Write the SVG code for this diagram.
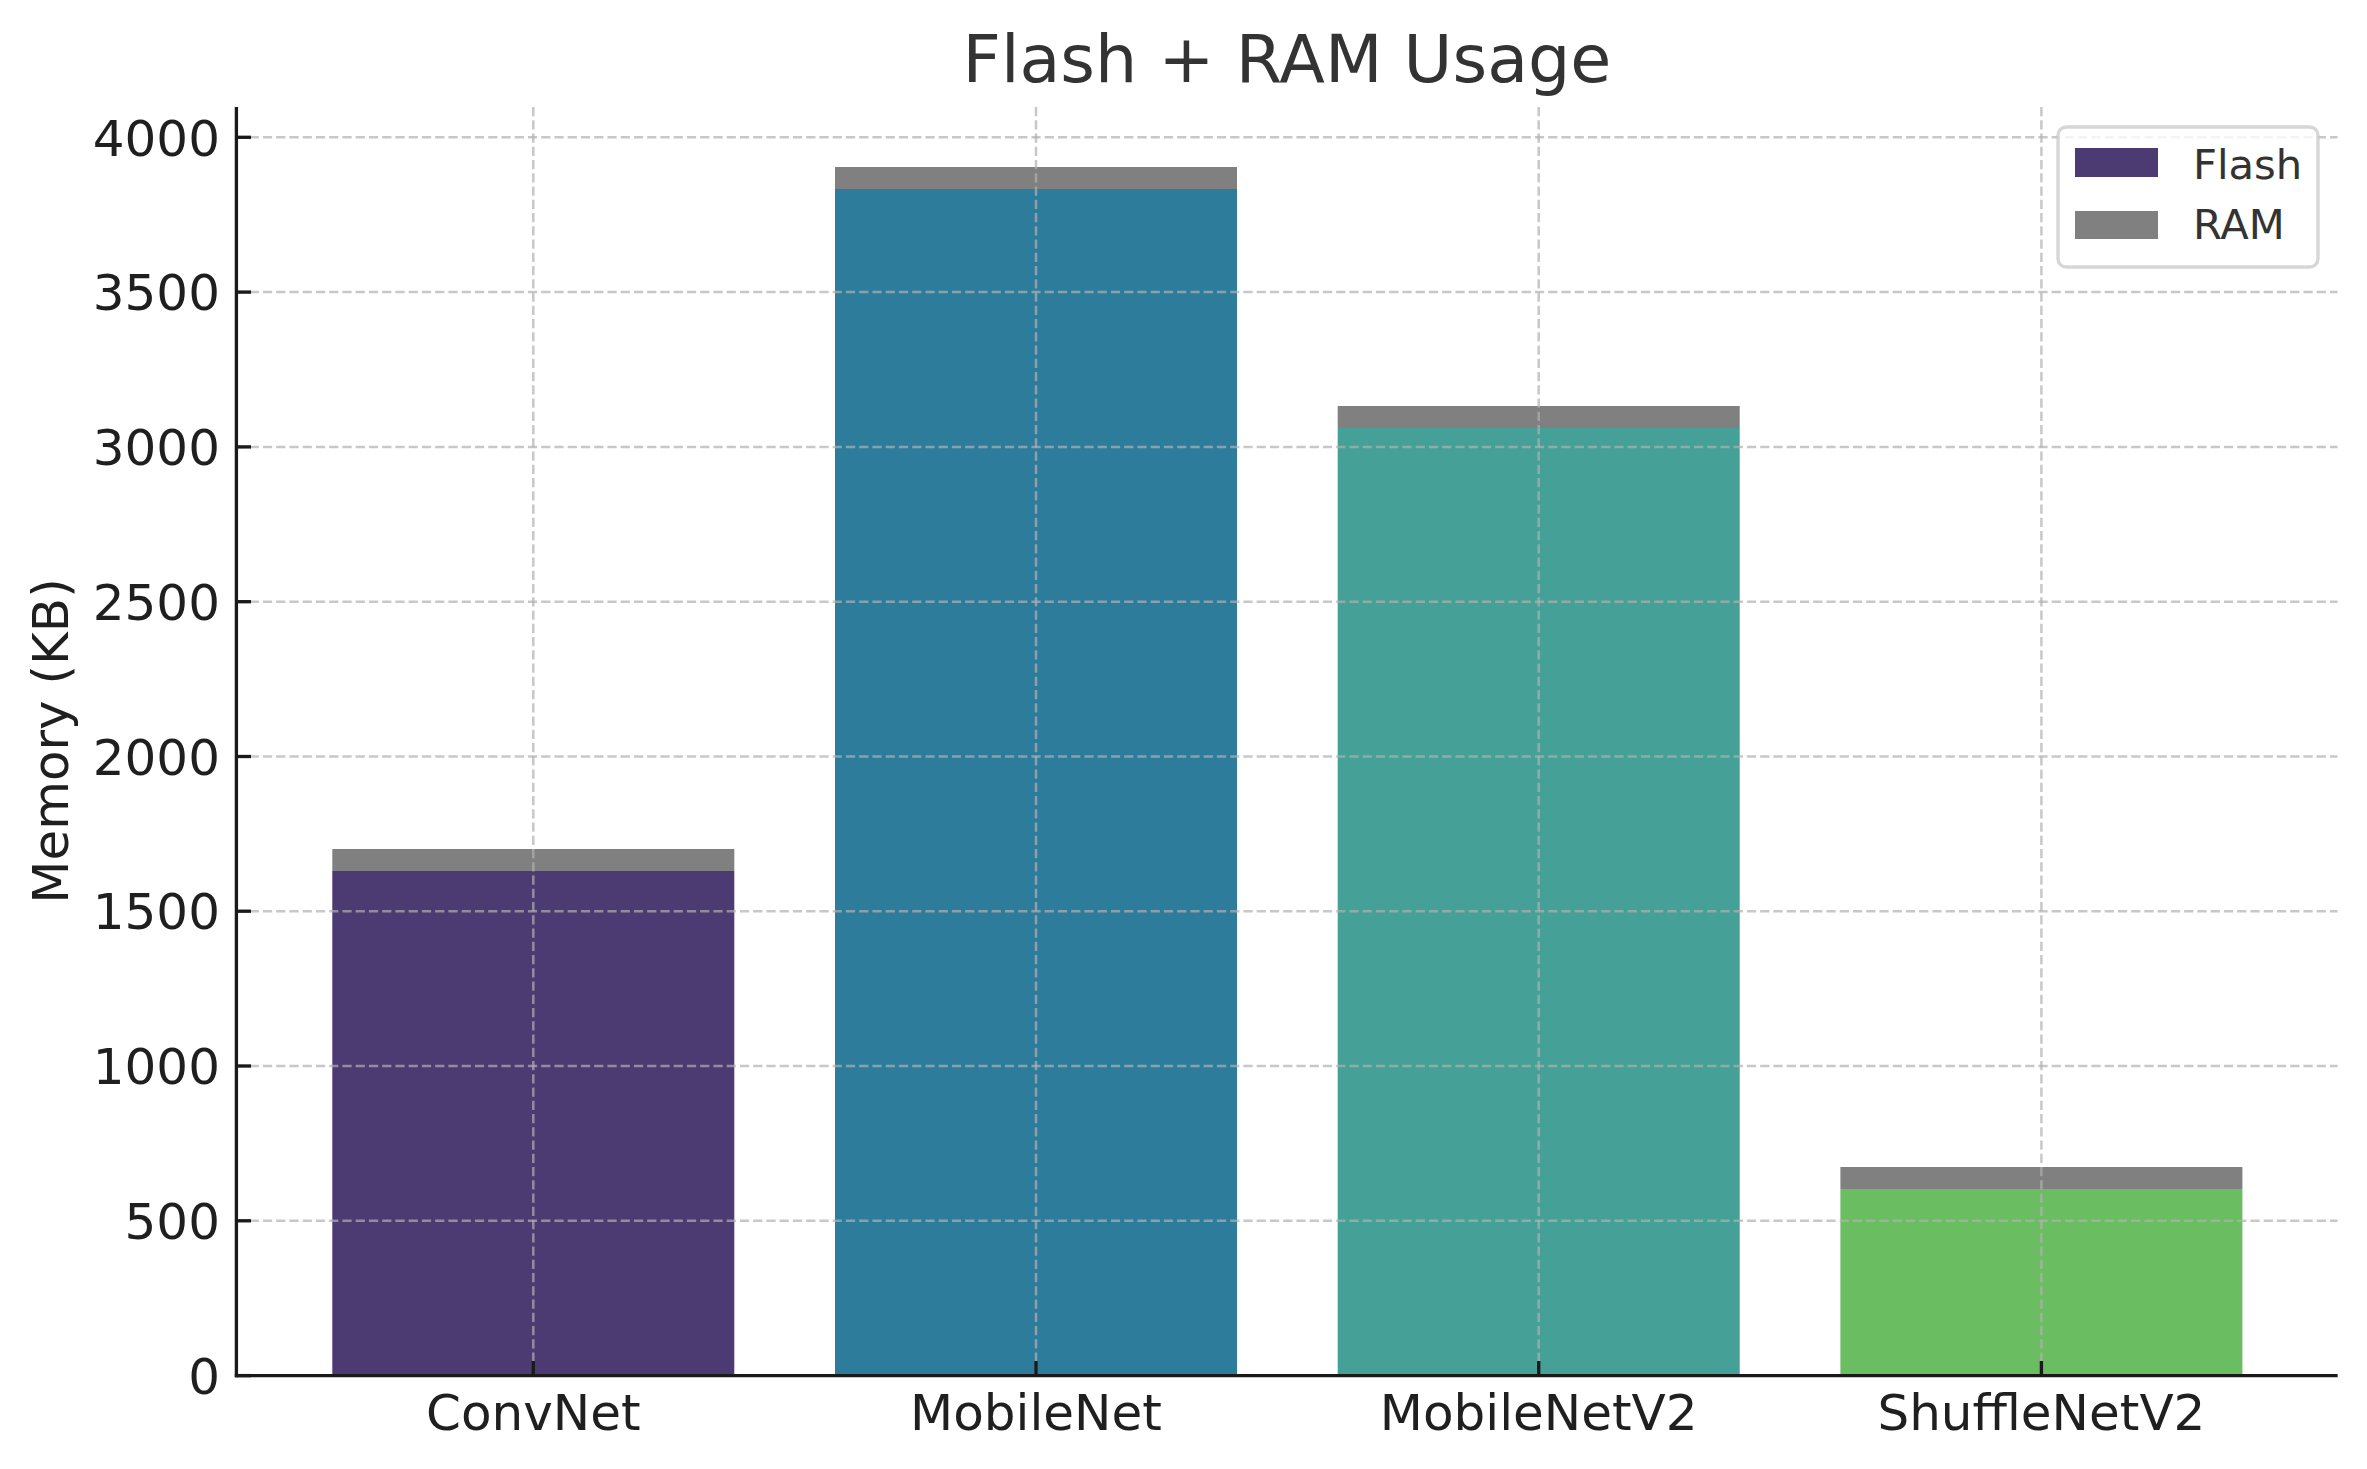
<svg xmlns="http://www.w3.org/2000/svg" width="2367" height="1469" viewBox="0 0 2367 1469">
  <style>
    text { font-family: "DejaVu Sans", "Liberation Sans", sans-serif; }
    .tick { font-size: 50px; fill: #1f1f1f; }
    .ylab { text-anchor: end; }
    .xlab { text-anchor: middle; }
    .grid { stroke: #b0b0b0; stroke-opacity: 0.7; stroke-width: 2.5; stroke-dasharray: 9.25 4; fill: none; }
    .spine { stroke: #1a1a1a; stroke-width: 3.33; fill: none; }
    .tk { stroke: #1a1a1a; stroke-width: 3.33; }
    .ram { fill: #808080; }
    .leg { font-size: 41.7px; fill: #333333; }
  </style>
  <rect x="0" y="0" width="2367" height="1469" fill="#ffffff"/>

  <g id="bar-convnet">
    <rect x="332.3" y="871" width="402" height="504.6" fill="#4c3a73"/>
    <rect class="ram" x="332.3" y="849" width="402" height="22"/>
  </g>
  <g id="bar-mobilenet">
    <rect x="835" y="189" width="402" height="1186.6" fill="#2e7c9c"/>
    <rect class="ram" x="835" y="167" width="402" height="22"/>
  </g>
  <g id="bar-mobilenetv2">
    <rect x="1337.7" y="428" width="402" height="947.6" fill="#45a097"/>
    <rect class="ram" x="1337.7" y="406" width="402" height="22"/>
  </g>
  <g id="bar-shufflenetv2">
    <rect x="1840.4" y="1189" width="402" height="186.6" fill="#6bbd61"/>
    <rect class="ram" x="1840.4" y="1167" width="402" height="22"/>
  </g>

  <g id="grid">
    <line class="grid" x1="236.4" y1="1375.6" x2="2337.6" y2="1375.6"/>
    <line class="grid" x1="236.4" y1="1220.8" x2="2337.6" y2="1220.8"/>
    <line class="grid" x1="236.4" y1="1066" x2="2337.6" y2="1066"/>
    <line class="grid" x1="236.4" y1="911.2" x2="2337.6" y2="911.2"/>
    <line class="grid" x1="236.4" y1="756.5" x2="2337.6" y2="756.5"/>
    <line class="grid" x1="236.4" y1="601.7" x2="2337.6" y2="601.7"/>
    <line class="grid" x1="236.4" y1="446.9" x2="2337.6" y2="446.9"/>
    <line class="grid" x1="236.4" y1="292.1" x2="2337.6" y2="292.1"/>
    <line class="grid" x1="236.4" y1="137.3" x2="2337.6" y2="137.3"/>
    <line class="grid" x1="533.3" y1="107" x2="533.3" y2="1375.6"/>
    <line class="grid" x1="1036" y1="107" x2="1036" y2="1375.6"/>
    <line class="grid" x1="1538.7" y1="107" x2="1538.7" y2="1375.6"/>
    <line class="grid" x1="2041.4" y1="107" x2="2041.4" y2="1375.6"/>
  </g>

  <g id="axes">
    <line class="spine" x1="236.4" y1="107" x2="236.4" y2="1377.2"/>
    <line class="spine" x1="234.8" y1="1375.6" x2="2337.6" y2="1375.6"/>
    <g id="yticks">
      <line class="tk" x1="236.4" y1="1375.6" x2="251" y2="1375.6"/>
      <line class="tk" x1="236.4" y1="1220.8" x2="251" y2="1220.8"/>
      <line class="tk" x1="236.4" y1="1066" x2="251" y2="1066"/>
      <line class="tk" x1="236.4" y1="911.2" x2="251" y2="911.2"/>
      <line class="tk" x1="236.4" y1="756.5" x2="251" y2="756.5"/>
      <line class="tk" x1="236.4" y1="601.7" x2="251" y2="601.7"/>
      <line class="tk" x1="236.4" y1="446.9" x2="251" y2="446.9"/>
      <line class="tk" x1="236.4" y1="292.1" x2="251" y2="292.1"/>
      <line class="tk" x1="236.4" y1="137.3" x2="251" y2="137.3"/>
    </g>
    <g id="xticks">
      <line class="tk" x1="533.3" y1="1375.6" x2="533.3" y2="1361"/>
      <line class="tk" x1="1036" y1="1375.6" x2="1036" y2="1361"/>
      <line class="tk" x1="1538.7" y1="1375.6" x2="1538.7" y2="1361"/>
      <line class="tk" x1="2041.4" y1="1375.6" x2="2041.4" y2="1361"/>
    </g>
    <g id="ytick-labels" class="tick">
      <text class="ylab" x="220" y="1393.8">0</text>
      <text class="ylab" x="220" y="1239">500</text>
      <text class="ylab" x="220" y="1084.2">1000</text>
      <text class="ylab" x="220" y="929.4">1500</text>
      <text class="ylab" x="220" y="774.7">2000</text>
      <text class="ylab" x="220" y="619.9">2500</text>
      <text class="ylab" x="220" y="465.1">3000</text>
      <text class="ylab" x="220" y="310.3">3500</text>
      <text class="ylab" x="220" y="155.5">4000</text>
    </g>
    <g id="xtick-labels" class="tick">
      <text class="xlab" x="533.3" y="1430">ConvNet</text>
      <text class="xlab" x="1036" y="1430">MobileNet</text>
      <text class="xlab" x="1538.7" y="1430">MobileNetV2</text>
      <text class="xlab" x="2041.4" y="1430">ShuffleNetV2</text>
    </g>
    <text id="ylabel" transform="translate(68,741) rotate(-90)" text-anchor="middle" font-size="50" fill="#1f1f1f">Memory (KB)</text>
  </g>

  <text id="title" x="1287" y="82" text-anchor="middle" font-size="66.7" fill="#333333">Flash + RAM Usage</text>

  <g id="legend">
    <rect x="2058" y="127" width="260" height="140" rx="8.3" ry="8.3" fill="#ffffff" fill-opacity="0.8" stroke="#cccccc" stroke-opacity="0.8" stroke-width="3.33"/>
    <rect x="2075" y="148" width="83" height="29" fill="#4c3a73"/>
    <text class="leg" x="2193" y="179">Flash</text>
    <rect class="ram" x="2075" y="211" width="83" height="28"/>
    <text class="leg" x="2193" y="239">RAM</text>
  </g>
</svg>
